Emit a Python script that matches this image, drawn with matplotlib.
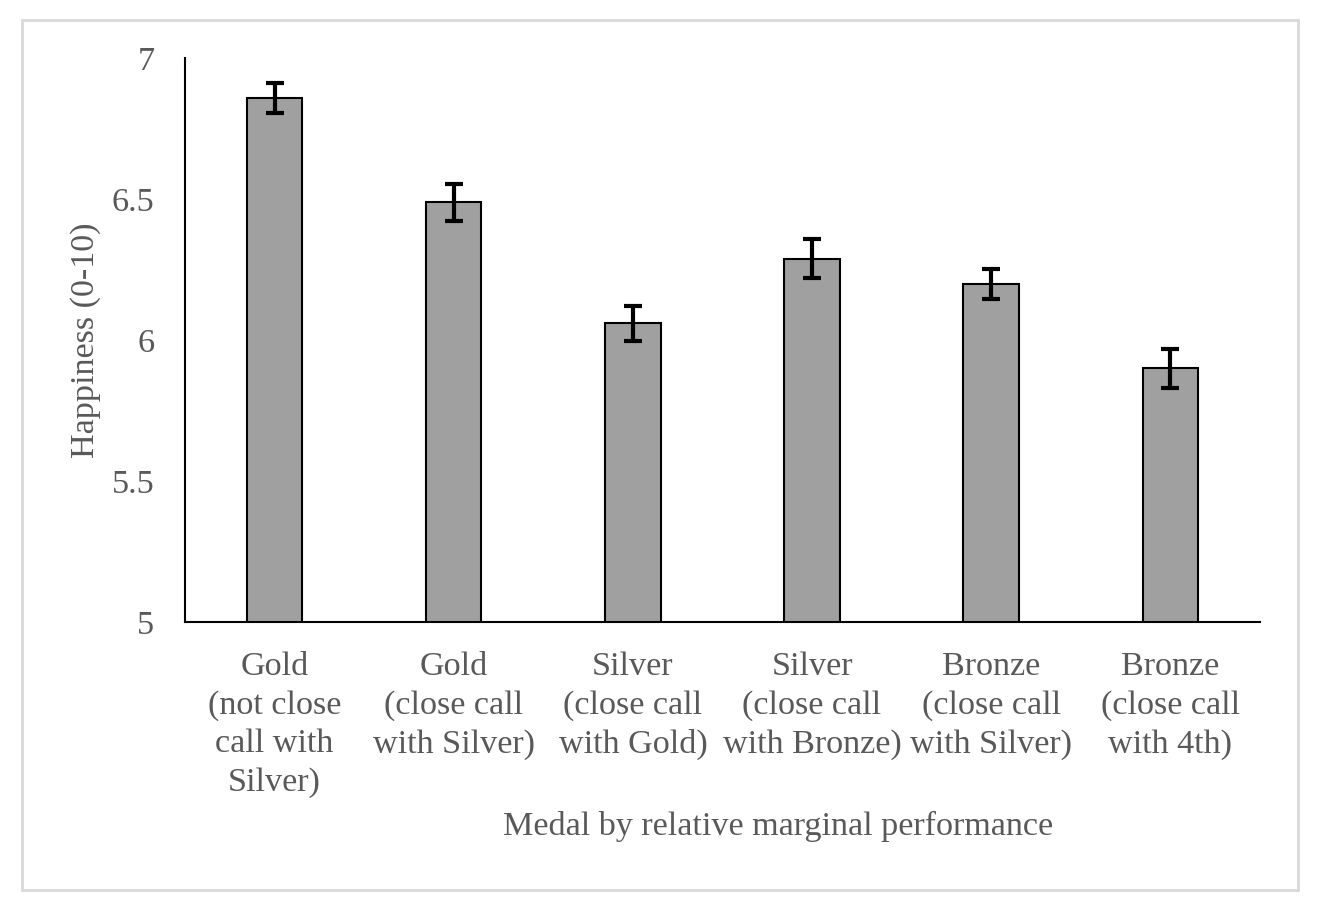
import numpy as np
import matplotlib
matplotlib.use("Agg")
import matplotlib.pyplot as plt
from matplotlib.patches import Rectangle

# Happiness by medal and closeness of call
categories = [
    "Gold\n(not close\ncall with\nSilver)",
    "Gold\n(close call\nwith Silver)",
    "Silver\n(close call\nwith Gold)",
    "Silver\n(close call\nwith Bronze)",
    "Bronze\n(close call\nwith Silver)",
    "Bronze\n(close call\nwith 4th)",
]
happiness = [6.86, 6.49, 6.06, 6.29, 6.20, 5.90]
errors = [0.052, 0.066, 0.062, 0.070, 0.053, 0.068]
y_ticks = [5, 5.5, 6, 6.5, 7]
y_tick_labels = ["5", "5.5", "6", "6.5", "7"]

text_color = "#595959"
fs = 24.6
plt.rcParams["font.family"] = ["Liberation Serif", "DejaVu Serif"]

fig = plt.figure(figsize=(13.26, 9.11), dpi=100)
ax = fig.add_axes([0.1395, 0.3172, 0.8107, 0.6186])

x = np.arange(len(categories))
ax.bar(x, happiness, width=0.31, color="#A0A0A0", edgecolor="black",
       linewidth=1.5, zorder=2)
ax.errorbar(x, happiness, yerr=errors, fmt="none", ecolor="black",
            elinewidth=3, capsize=6.5, capthick=3, zorder=3)

ax.set_xlim(-0.5, len(categories) - 0.5)
ax.set_ylim(5, 7)
ax.set_yticks(y_ticks)
ax.set_yticklabels(y_tick_labels)
ax.set_xticks(x)
ax.set_xticklabels(categories, linespacing=1.33)

ax.tick_params(axis="y", length=0, pad=22, labelsize=fs, labelcolor=text_color)
ax.tick_params(axis="x", length=0, pad=21.5, labelsize=fs, labelcolor=text_color)

for side in ["top", "right"]:
    ax.spines[side].set_visible(False)
for side in ["left", "bottom"]:
    ax.spines[side].set_linewidth(1.5)
    ax.spines[side].set_color("black")

ax.set_ylabel("Happiness (0-10)", fontsize=fs, color=text_color, labelpad=8)
ax.set_xlabel("Medal by relative marginal performance", fontsize=fs,
              color=text_color, labelpad=9.5, x=0.552)

# light grey chart border
fig.patches.append(Rectangle((0.0166, 0.023), 0.9623, 0.955, transform=fig.transFigure,
                             fill=False, edgecolor="#D9D9D9", linewidth=2))

fig.savefig("out.png", dpi=100)
